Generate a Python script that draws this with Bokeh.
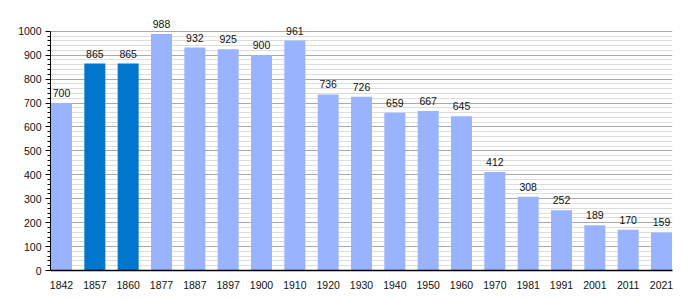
from bokeh.plotting import figure
from bokeh.models import ColumnDataSource, FixedTicker, Range1d
from bokeh.core.properties import value
from bokeh.embed import file_html
from bokeh.resources import INLINE

years = ["1842", "1857", "1860", "1877", "1887", "1897", "1900", "1910", "1920", "1930",
         "1940", "1950", "1960", "1970", "1981", "1991", "2001", "2011", "2021"]
population = [700, 865, 865, 988, 932, 925, 900, 961, 736, 726,
              659, 667, 645, 412, 308, 252, 189, 170, 159]
highlight = [False, True, True] + [False] * 16
y_major = [0, 100, 200, 300, 400, 500, 600, 700, 800, 900, 1000]

LIGHT = "#99b3ff"
DARK = "#0077cc"
FONT = "Liberation Sans"

xs = list(range(len(years)))
colors = [DARK if h else LIGHT for h in highlight]
src = ColumnDataSource(dict(x=xs, top=population, color=colors,
                            label=[str(v) for v in population]))

y_minor = [v for v in range(0, 1001, 20) if v % 100 != 0]

p = figure(width=700, height=300, output_backend="svg", toolbar_location=None,
           x_range=Range1d(-0.33, len(years) - 1 + 0.33), y_range=Range1d(0, 1070),
           min_border_left=50, min_border_right=28, min_border_top=14, min_border_bottom=30)
p.outline_line_color = None
p.background_fill_color = "white"

p.vbar(x="x", top="top", width=0.63, bottom=0, fill_color="color", line_color=None, source=src)
p.text(x="x", y="top", text="label", source=src, text_align="center", text_baseline="bottom",
       y_offset=-6, text_font=value(FONT), text_font_size="10.5px", text_color="#111111")

p.xgrid.grid_line_color = None
p.yaxis.ticker = FixedTicker(ticks=y_major, minor_ticks=y_minor)
p.yaxis.bounds = (0, 1000)
p.ygrid.grid_line_color = "#aaaaaa"
p.ygrid.minor_grid_line_color = "#dddddd"

p.xaxis.ticker = FixedTicker(ticks=xs)
p.xaxis.major_label_overrides = {i: y for i, y in enumerate(years)}
p.xaxis.major_tick_line_color = None
p.xaxis.minor_tick_line_color = None
p.xaxis.axis_line_color = "black"
p.xaxis.axis_line_width = 1.5
p.xaxis.major_label_standoff = 4

p.yaxis.axis_line_color = "black"
p.yaxis.major_tick_out = 5
p.yaxis.major_tick_in = 0
p.yaxis.minor_tick_out = 3
p.yaxis.minor_tick_in = 0
p.yaxis.major_label_standoff = 4

for ax in (p.xaxis, p.yaxis):
    ax.major_label_text_font = FONT
    ax.major_label_text_font_size = "10.5px"
    ax.major_label_text_color = "#111111"

open("out.html", "w").write(file_html(p, INLINE))
